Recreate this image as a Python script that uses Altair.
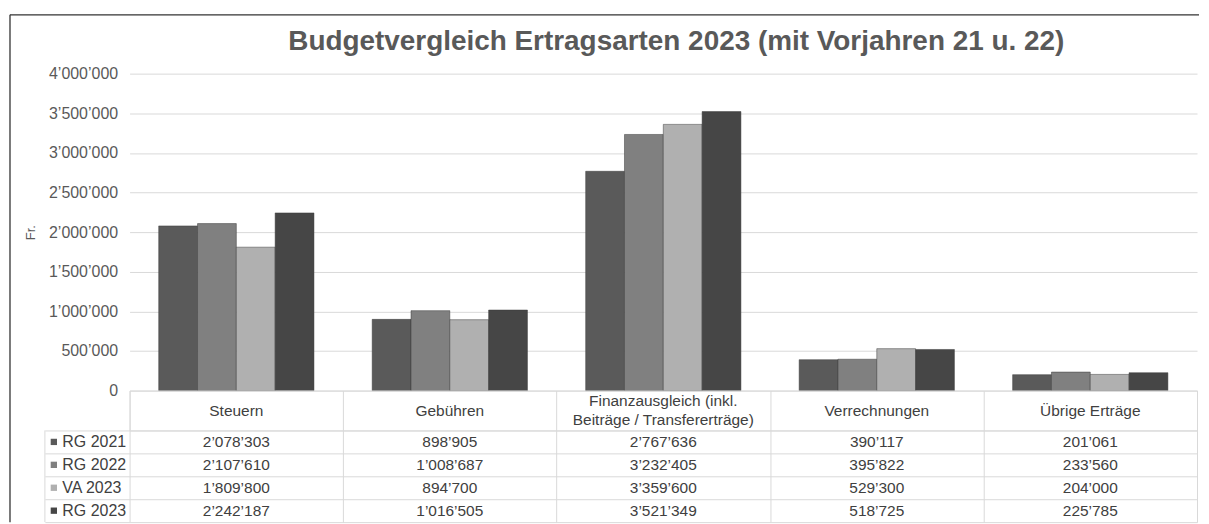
import altair as alt
import pandas as pd

# ---- data ----
categories = ["Steuern", "Gebühren", "Finanzausgleich (inkl. Beiträge / Transfererträge)",
              "Verrechnungen", "Übrige Erträge"]
header_labels = ["Steuern", "Gebühren", "Finanzausgleich (inkl.\nBeiträge / Transfererträge)",
                 "Verrechnungen", "Übrige Erträge"]
series = ["RG 2021", "RG 2022", "VA 2023", "RG 2023"]
rg2021 = [2078303, 898905, 2767636, 390117, 201061]
rg2022 = [2107610, 1008687, 3232405, 395822, 233560]
va2023 = [1809800, 894700, 3359600, 529300, 204000]
rg2023 = [2242187, 1016505, 3521349, 518725, 225785]
y_ticks = [0, 500000, 1000000, 1500000, 2000000, 2500000, 3000000, 3500000, 4000000]
colors = ["#5a5a5a", "#808080", "#b0b0b0", "#464646"]
title_text = "Budgetvergleich Ertragsarten 2023 (mit Vorjahren 21 u. 22)"

rows = []
for s, vals in zip(series, [rg2021, rg2022, va2023, rg2023]):
    for c, v in zip(categories, vals):
        rows.append({"cat": c, "series": s, "value": v})
df = pd.DataFrame(rows)
hdr_df = pd.DataFrame({"cat": categories, "label": header_labels})
one = pd.DataFrame({"k": [0]})

FMT = "replace(replace(format(datum.value, ','), ',', '\u2019'), ',', '\u2019')"
GRID = "#d9d9d9"
TXT = "#404040"
W = 1071
H_TOP, H_HEAD, H_BODY = 318, 40, 92

xscale = alt.Scale(type="band", domain=categories, paddingInner=0, paddingOuter=0)
cscale = alt.Scale(domain=series, range=colors)

# ---- bar chart ----
bars = alt.Chart(df).mark_bar(stroke="#3a3a3a", strokeWidth=0.5).encode(
    x=alt.X("cat:N", sort=categories, scale=xscale, axis=None),
    xOffset=alt.XOffset("series:N", sort=series,
                        scale=alt.Scale(domain=series, paddingOuter=0.75, paddingInner=0)),
    y=alt.Y("value:Q", scale=alt.Scale(domain=[0, 4000000], nice=False),
            axis=alt.Axis(values=y_ticks, labelExpr=FMT, title="Fr.", grid=True,
                          gridColor=GRID, ticks=False, domain=False, labelFontSize=16,
                          labelColor="#595959", labelPadding=12, titleFontSize=13,
                          titleFontWeight="normal", titleColor="#595959", titlePadding=11)),
    color=alt.Color("series:N", sort=series, scale=cscale, legend=None),
).properties(
    width=W, height=H_TOP,
    title=alt.TitleParams(text=title_text, fontSize=28, fontWeight="bold", color="#595959",
                          anchor="middle", frame="group", offset=10, dx=13),
)

# ---- table header ----
hx = alt.X("cat:N", sort=categories, scale=xscale,
           axis=alt.Axis(grid=True, tickBand="extent", gridColor=GRID, labels=False,
                         ticks=False, domain=False, title=None))
head_single = alt.Chart(hdr_df).transform_filter(
    "indexof(datum.label, '\\n') < 0").mark_text(
    fontSize=15.5, color=TXT, baseline="middle").encode(x=hx, text="label:N")
head_multi = alt.Chart(hdr_df).transform_filter(
    "indexof(datum.label, '\\n') >= 0").mark_text(
    fontSize=15.5, color=TXT, lineBreak="\n", lineHeight=19, baseline="middle",
    dy=-9.5).encode(x=hx, text="label:N")
header = alt.layer(head_single, head_multi).properties(
    width=W, height=H_HEAD, view=alt.ViewBackground(stroke=GRID))

# ---- table body ----
yscale = alt.Scale(type="band", domain=series, paddingInner=0, paddingOuter=0)
cells = alt.Chart(df).transform_calculate(lab=FMT).mark_text(
    fontSize=15.5, color=TXT).encode(
    x=alt.X("cat:N", sort=categories, scale=xscale,
            axis=alt.Axis(grid=True, tickBand="extent", gridColor=GRID, labels=False,
                          ticks=False, domain=False, title=None)),
    y=alt.Y("series:N", sort=series, scale=yscale,
            axis=alt.Axis(grid=True, tickBand="extent", gridColor=GRID, ticks=True,
                          tickSize=85, tickColor=GRID, domain=False, labelAlign="left",
                          labelPadding=-17, labelFontSize=16, labelColor=TXT,
                          title=None)),
    text="lab:N",
)
keys = alt.Chart(df).transform_filter(alt.datum.cat == "Steuern").mark_square(
    size=40, opacity=1).encode(
    x=alt.value(-76),
    y=alt.Y("series:N", sort=series, scale=yscale),
    color=alt.Color("series:N", sort=series, scale=cscale, legend=None),
)
left_border = alt.Chart(one).mark_rule(color=GRID).encode(x=alt.value(-85))

# outer chart frame (top and left edges)
FRAME_Y = -(H_TOP + H_HEAD + 59)
frame_top = alt.Chart(one).mark_rule(color="#333333", strokeWidth=1.3).encode(
    x=alt.value(-120), x2=alt.value(1073), y=alt.value(FRAME_Y))
frame_left = alt.Chart(one).mark_rule(color="#333333", strokeWidth=1.3).encode(
    x=alt.value(-120), y=alt.value(FRAME_Y), y2=alt.value(H_BODY))

body = alt.layer(cells, keys, left_border, frame_top, frame_left).properties(
    width=W, height=H_BODY)

chart = alt.vconcat(bars, header, body, spacing=0, bounds="flush").properties(
    padding={"left": 0, "top": 4, "right": 0, "bottom": 0}
).configure(font="Liberation Sans").configure_view(stroke="transparent")

chart.save("out.html", embed_options={"renderer": "svg", "actions": False})
